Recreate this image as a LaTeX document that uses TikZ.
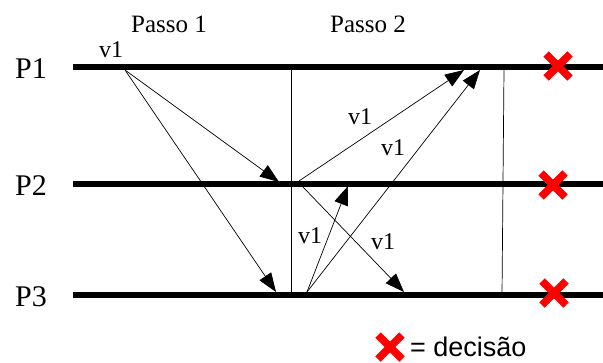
\documentclass[tikz,border=0pt]{standalone}
\usepackage{fontspec}
\setmainfont{Liberation Serif}
\newfontfamily\legendfont{Liberation Sans}
\usetikzlibrary{arrows.meta}

\tikzset{
  proc/.style={line width=6.5pt},
  msg/.style={line width=0.7pt, -{Triangle[length=19pt,width=14pt]}},
  roundline/.style={line width=0.7pt},
  decision/.style={red, line width=7.5pt},
  plabel/.style={font=\fontsize{30}{33}\selectfont},
  passolabel/.style={font=\fontsize{25}{28}\selectfont},
  vlabel/.style={font=\fontsize{24}{27}\selectfont},
}

\begin{document}
\begin{tikzpicture}[x=1pt, y=-1pt]
  \useasboundingbox (0,0) rectangle (603,362);

  % processes
  \foreach \name/\y in {P1/67, P2/184, P3/295} {
    \node[plabel] (lbl\name) at (31,\y+2) {\name};
    \coordinate (\name s) at (73,\y);
    \coordinate (\name e) at (603,\y);
    \draw[proc] (\name s) -- (\name e);
  }

  % round boundaries
  \coordinate (r1top) at (291,67);
  \coordinate (r1bot) at (291,295);
  \coordinate (r2top) at (504,70);
  \coordinate (r2bot) at (502,295);
  \draw[roundline] (r1top) -- (r1bot);
  \draw[roundline] (r2top) -- (r2bot);

  \node[passolabel] (passo1) at (169,24) {Passo 1};
  \node[passolabel] (passo2) at (368,24) {Passo 2};

  % messages
  \coordinate (send1) at (125,70);
  \coordinate (recv12) at (279,182);
  \coordinate (recv13) at (276,292);
  \coordinate (send2a) at (299,181);
  \coordinate (send2b) at (303,187);
  \coordinate (send3) at (307,292);
  \coordinate (recv21) at (464,70);
  \coordinate (recv31) at (480,70);
  \coordinate (recv32) at (348,186);
  \coordinate (recv23) at (404,292);

  \draw[msg] (send1) -- (recv12);
  \draw[msg] (send1) -- (recv13);
  \draw[msg] (send2a) -- (recv21);
  \draw[msg] (send3) -- (recv31);
  \draw[msg] (send3) -- (recv32);
  \draw[msg] (send2b) -- (recv23);

  \node[vlabel] (v1a) at (111,50) {v1};
  \node[vlabel] (v1b) at (360,117) {v1};
  \node[vlabel] (v1c) at (393,148) {v1};
  \node[vlabel] (v1d) at (310,236) {v1};
  \node[vlabel] (v1e) at (383,242) {v1};

  % decisions
  \foreach \cx/\cy in {558/66, 553/185, 554/293, 390/347} {
    \draw[decision] (\cx-12,\cy-12) -- (\cx+12,\cy+12);
    \draw[decision] (\cx-12,\cy+12) -- (\cx+12,\cy-12);
  }
  \node[anchor=west, inner sep=0pt, font=\legendfont\fontsize{27}{30}\selectfont] (legend) at (410,347) {= decisão};
\end{tikzpicture}
\end{document}
